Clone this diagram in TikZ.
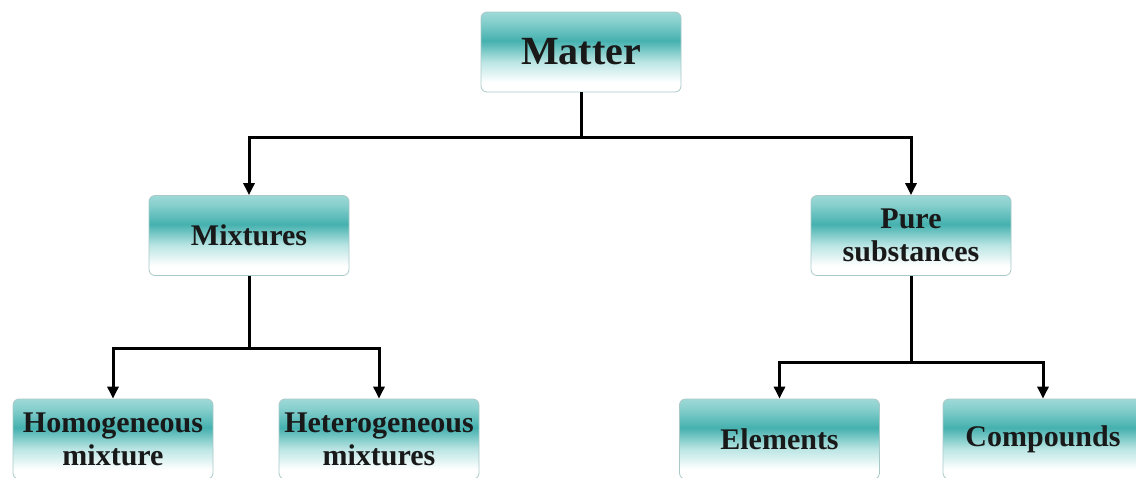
\documentclass[tikz,border=0pt]{standalone}
\usepackage{fontspec}
\setmainfont{Liberation Serif}
\usepackage{xcolor}
\usetikzlibrary{arrows.meta, positioning, calc}
\definecolor{tealtop}{HTML}{86CFCD}
\definecolor{tealdark}{HTML}{45B1AF}
\definecolor{teallight}{HTML}{B9E5E3}
\definecolor{boxedge}{HTML}{A9C9C8}
\pgfdeclareverticalshading{boxshade}{100bp}{color(0bp)=(white); color(31bp)=(white); color(44bp)=(teallight); color(57bp)=(tealdark); color(69bp)=(tealtop); color(75bp)=(tealtop!80); color(100bp)=(tealtop!80)}

\begin{document}
\begin{tikzpicture}[
    % Box and connector styles
    box/.style={rectangle, draw=boxedge, line width=0.4pt, shading=boxshade, rounded corners=3pt, minimum width=100pt, minimum height=40pt, inner sep=2pt, align=center, text=black!90, font=\fontsize{15}{16.5}\selectfont\bfseries},
    link/.style={line width=1.5pt, draw=black},
    linkarrow/.style={-{Triangle[length=6pt, width=5.5pt]}, line width=1.5pt, draw=black},
    on grid,
]
\useasboundingbox (0,0) rectangle (568pt,-238.5pt);

% ============================================================================
% TOP LEVEL
% ============================================================================
\node[box, font=\fontsize{20}{22}\selectfont\bfseries] (matter) at (290.5pt,-26pt) {Matter};

% ============================================================================
% SECOND LEVEL
% ============================================================================
\node[box, below left=91.75pt and 166pt of matter] (mixtures) {Mixtures};
\node[box, below right=91.75pt and 165pt of matter] (pure) {Pure\\substances};

\coordinate (topbus) at ([yshift=-22.5pt]matter.south);
\draw[link] (matter.south) -- (topbus);
\draw[linkarrow] (topbus) -| (mixtures.north);
\draw[linkarrow] (topbus) -| (pure.north);

% ============================================================================
% THIRD LEVEL
% ============================================================================
\node[box, below left=101.75pt and 68pt of mixtures] (homog) {Homogeneous\\mixture};
\node[box, below right=101.75pt and 65pt of mixtures] (hetero) {Heterogeneous\\mixtures};
\node[box, below left=101.75pt and 65.75pt of pure] (elements) {Elements};
\node[box, below right=101.75pt and 66pt of pure] (compounds) {Compounds};

% Mixtures branch
\coordinate (mixbus) at ([yshift=-36.5pt]mixtures.south);
\draw[link] (mixtures.south) -- (mixbus);
\draw[linkarrow] (mixbus) -| (homog.north);
\draw[linkarrow] (mixbus) -| (hetero.north);

% Pure substances branch
\coordinate (purebus) at ([yshift=-43.5pt]pure.south);
\draw[link] (pure.south) -- (purebus);
\draw[linkarrow] (purebus) -| (elements.north);
\draw[linkarrow] (purebus) -| (compounds.north);

\end{tikzpicture}
\end{document}
